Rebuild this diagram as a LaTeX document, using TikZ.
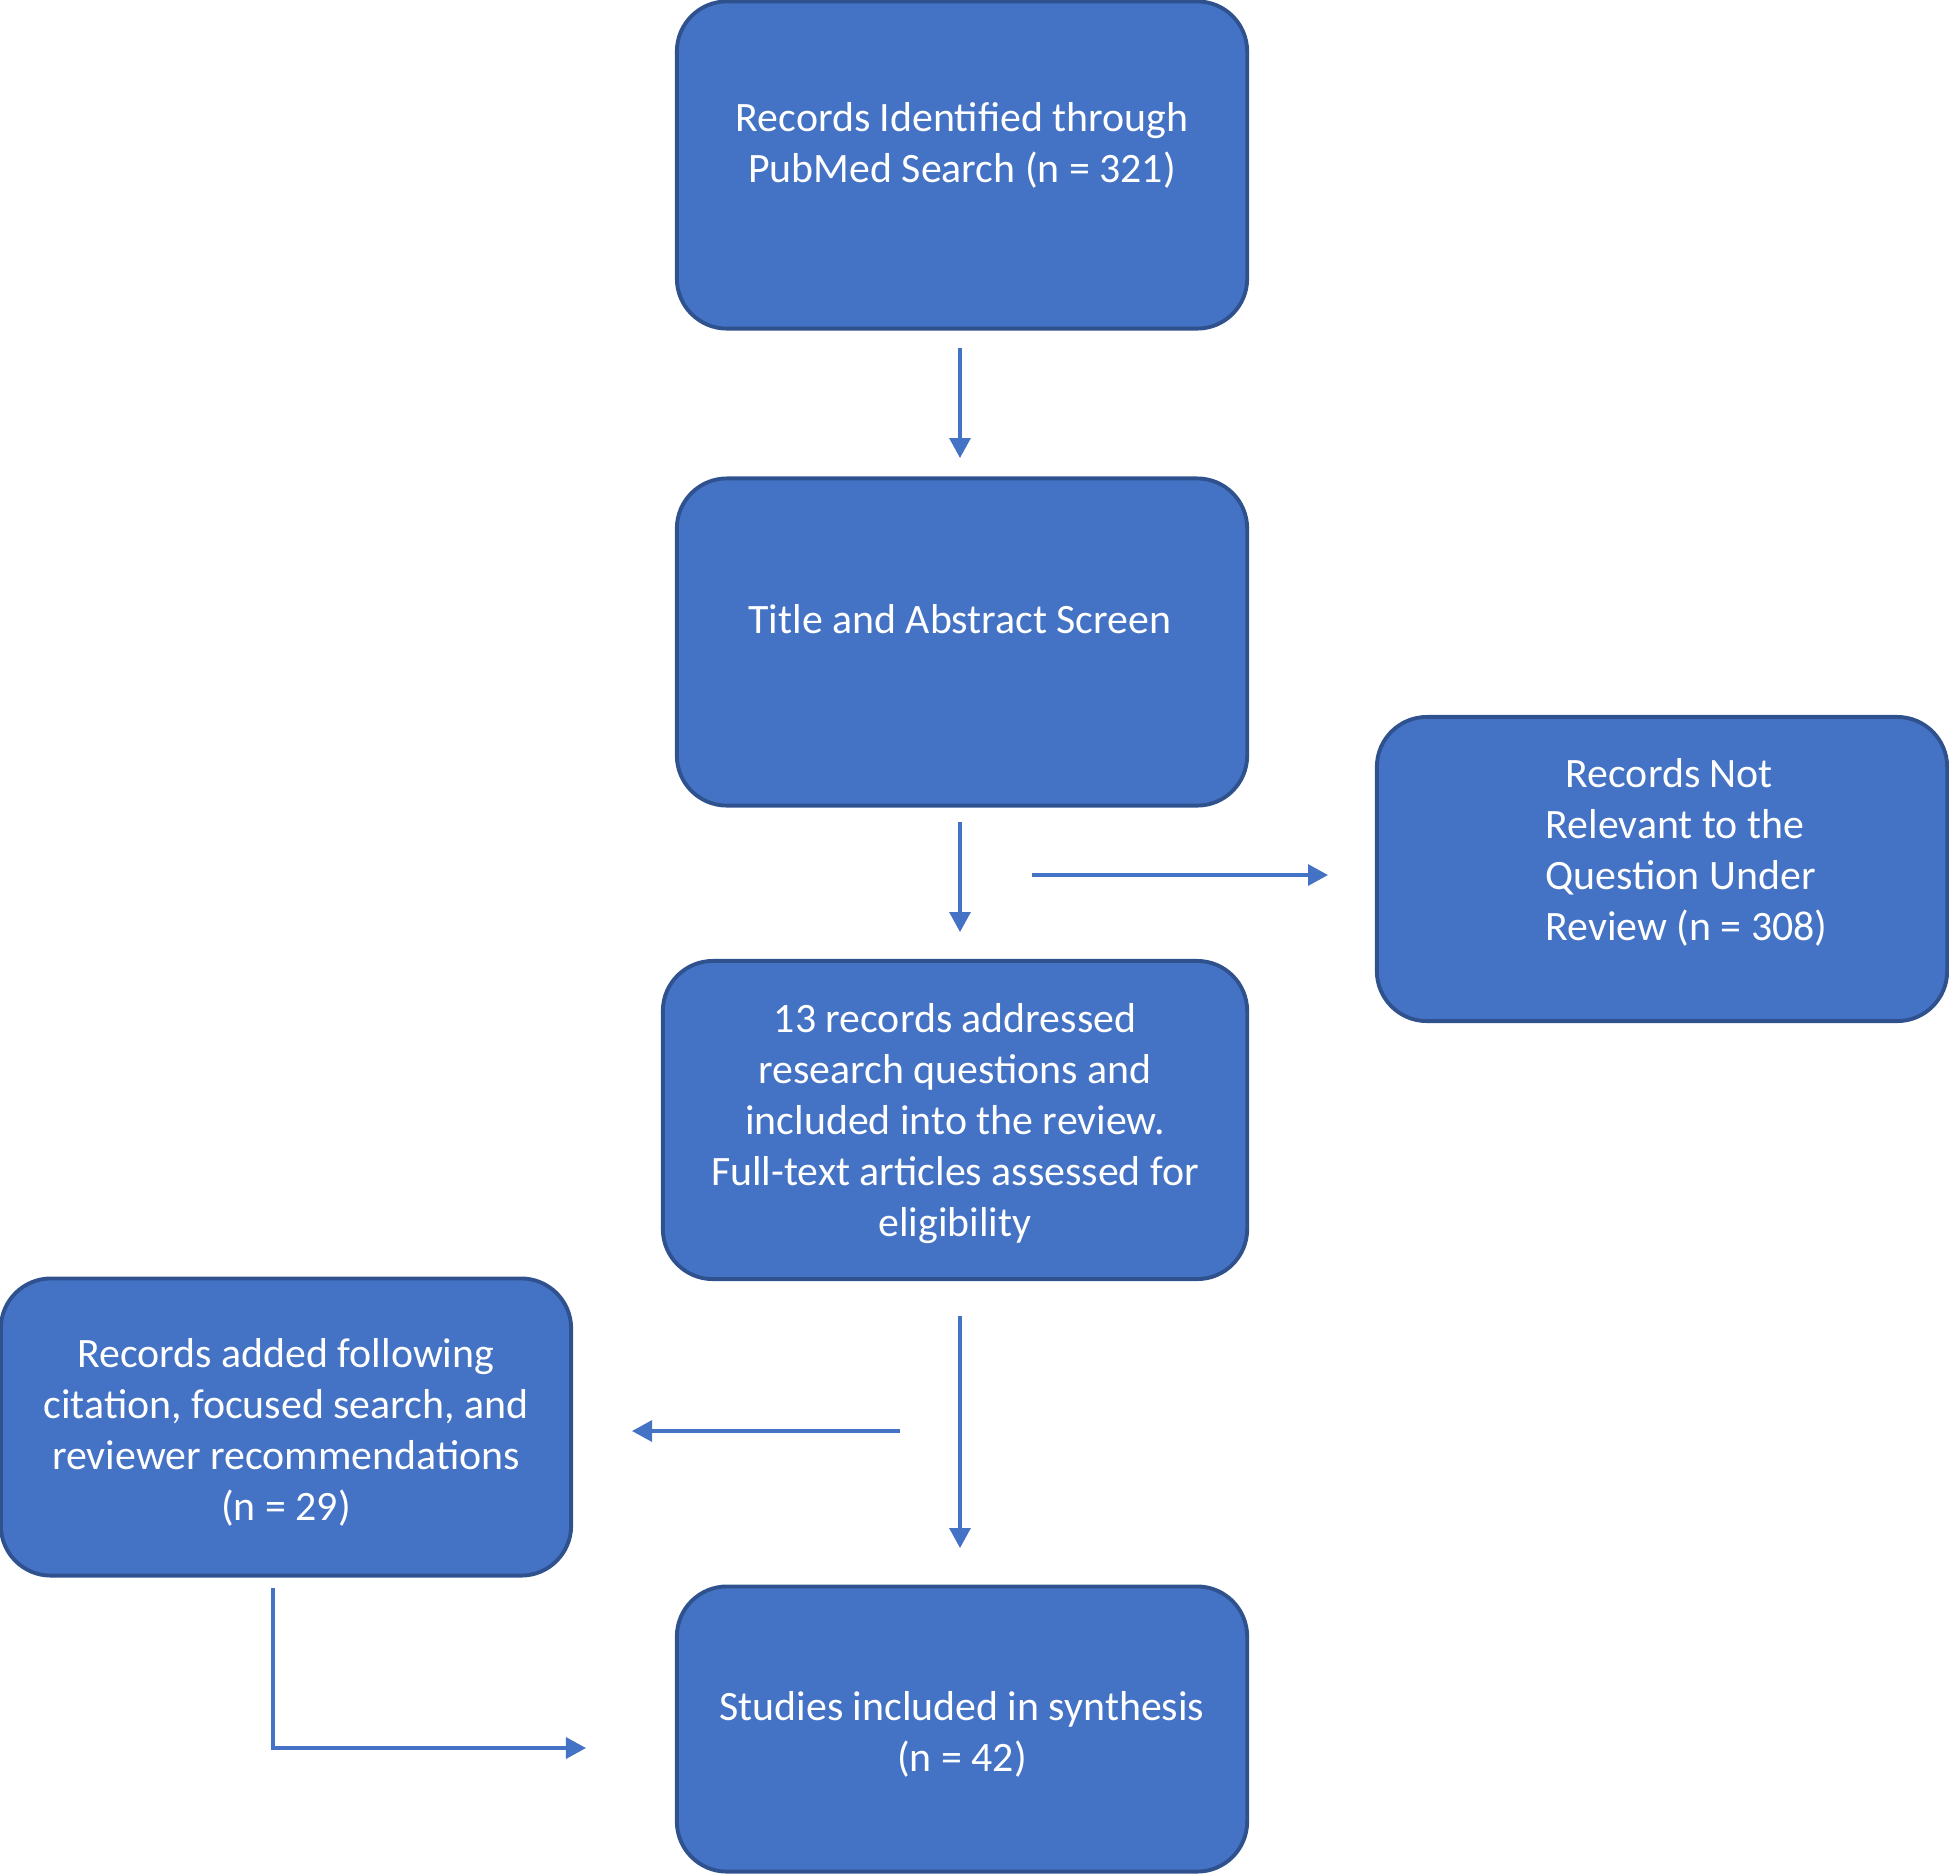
\documentclass[tikz,border=0pt]{standalone}
\usepackage{fontspec}
\setmainfont{Carlito}
\usetikzlibrary{arrows.meta,positioning,calc}
\definecolor{boxblue}{HTML}{4472C4}
\definecolor{edgeblue}{HTML}{2F528F}
\tikzset{
  box/.style={draw=edgeblue, fill=boxblue, line width=1.1pt, rounded corners=0.5cm, inner sep=0pt},
  txt/.style={text=white, inner sep=0pt, align=center, font=\fontsize{11.9}{14.5}\selectfont},
  arr/.style={-{Triangle[length=0.2cm, width=0.21cm]}, draw=boxblue, line width=0.9pt}}

\begin{document}
\begin{tikzpicture}[x=0.01cm, y=-0.01cm]
  \useasboundingbox (0,0) rectangle (1949,1875);
  % boxes
  \node[box, minimum width=5.7cm, minimum height=3.27cm] (pubmed) at (962,165) {};
  \node[box, minimum width=5.7cm, minimum height=3.27cm] (screen) at (962,642) {};
  \node[box, minimum width=5.7cm, minimum height=3.04cm] (notrel) at (1662,869) {};
  \node[box, minimum width=5.84cm, minimum height=3.18cm] (fulltext) at (955,1120) {};
  \node[box, minimum width=5.7cm, minimum height=2.97cm] (added) at (286,1427) {};
  \node[box, minimum width=5.7cm, minimum height=2.85cm] (synth) at (962,1729) {};
  % texts
  \node[txt] (pubmedtxt) at (962,145) {Records Identified through\\PubMed Search (n = 321)};
  \node[txt] (screentxt) at (960,619) {Title and Abstract Screen};
  \node[txt, align=left, anchor=west] (notreltxt) at (1545,852)
    {\hspace*{0.2cm}Records Not\\Relevant to the\\Question Under\\Review (n = 308)};
  \node[txt] (fulltexttxt) at (955,1124)
    {13 records addressed\\research questions and\\included into the review.\\Full-text articles assessed for\\eligibility};
  \node[txt] (addedtxt) at (286,1432)
    {Records added following\\citation, focused search, and\\reviewer recommendations\\(n = 29)};
  \node[txt] (synthtxt) at (962,1734) {Studies included in synthesis\\(n = 42)};
  % arrow ends
  \coordinate (a1) at (960,348);  \coordinate (b1) at (960,458);
  \coordinate (a2) at (960,822);  \coordinate (b2) at (960,932);
  \coordinate (a3) at (1032,875); \coordinate (b3) at (1328,875);
  \coordinate (a4) at (900,1431); \coordinate (b4) at (632,1431);
  \coordinate (a5) at (960,1316); \coordinate (b5) at (960,1548);
  \coordinate (a6) at (273,1588); \coordinate (b6) at (586,1748);
  \draw[arr] (a1) -- (b1);
  \draw[arr] (a2) -- (b2);
  \draw[arr] (a3) -- (b3);
  \draw[arr] (a4) -- (b4);
  \draw[arr] (a5) -- (b5);
  \draw[arr] (a6) |- (b6);
\end{tikzpicture}
\end{document}
